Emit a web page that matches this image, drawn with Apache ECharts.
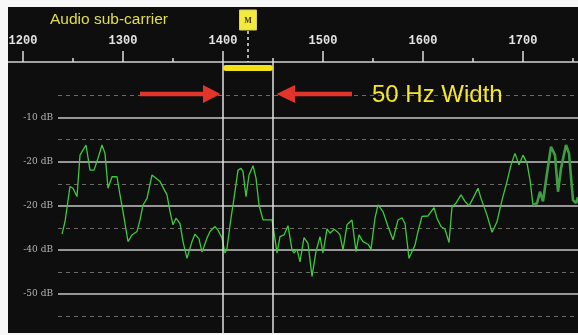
<!DOCTYPE html>
<html><head><meta charset="utf-8">
<script src="https://cdn.jsdelivr.net/npm/echarts@6/dist/echarts.min.js"></script>
<style>html,body{margin:0;padding:0;background:#f7f7f7}#c{width:578px;height:335px}</style>
</head><body><div id="c"></div>
<script>
// ---- data ----
const freqA = [1239,1242,1247,1250,1254,1257,1259,1263,1267,1271,1275,1279,1282,1285,1289,1294,1297,1300,1305,1309,1314,1317,1320,1324,1329,1331,1337,1344,1347,1350,1353,1357,1360,1364,1369,1372,1376,1379,1384,1387,1392,1395,1399,1402,1404,1408,1411,1415,1418,1420,1423,1426,1430,1433,1436,1440,1444,1449,1450,1451,1454,1457,1461,1465,1469,1471,1474,1477,1481,1485,1489,1493,1497,1500,1504,1507,1511,1514,1517,1520,1524,1529,1533,1536,1540,1545,1548,1552,1555,1560,1565,1570,1575,1579,1582,1586,1592,1595,1599,1605,1607,1611,1614,1618,1622,1626,1629,1633,1638,1642,1646,1650,1655,1658,1664,1669,1674,1679,1684,1688,1692,1696,1700,1704,1707,1710];
const dbA = [-36.4,-33.6,-25.6,-26,-27.9,-18.5,-17.7,-16.2,-21.9,-21.9,-19.2,-16.2,-18.1,-26,-23.4,-23.4,-27.5,-31.3,-38.1,-36.6,-35.8,-33.2,-29.8,-28.3,-23,-23,-24.5,-27.5,-31.3,-34.3,-32.8,-34,-38.1,-41.9,-38.1,-36.4,-37.5,-40.5,-37.3,-35.8,-34.7,-35.5,-37.3,-40.7,-39.6,-32.8,-28.3,-21.9,-21.5,-22.2,-27.9,-23,-20.9,-23.7,-29.8,-33.2,-33.2,-33.2,-33.3,-36,-40.7,-37,-36.6,-34.5,-40,-40.7,-39.8,-42.7,-37.2,-38.5,-46,-40.4,-37,-40.7,-35.2,-36.2,-35.3,-35.8,-36.6,-40,-34.3,-33.2,-40.4,-36.6,-38.1,-38.7,-39.8,-32.8,-29.8,-31.3,-34.7,-37.7,-33.2,-32.7,-34,-41.9,-38.9,-35.8,-32.4,-32.3,-32.4,-30.4,-32.8,-34.7,-35.3,-38.3,-30.2,-29.4,-27.5,-29,-30,-28.3,-26,-28.3,-32.1,-36,-33.6,-28.7,-24.5,-20.7,-18.1,-20.7,-18.5,-20.3,-24.1,-29.8];
const freqB = [1710,1714,1717,1720,1724,1728,1732,1735,1738,1743,1746,1750,1753,1755];
const dbB = [-29.8,-29.4,-26.8,-29,-22.6,-16.6,-18.5,-26.8,-21.5,-16.2,-18.1,-28.7,-29.4,-28];
const yTickValues = [-10,-20,-30,-40,-50];
const yTickLabels = ['-10 dB','-20 dB','-20 dB','-40 dB','-50 dB'];
const titleText = 'Audio sub-carrier';
const markerLabel = 'M';
const markerFreq = 1425;
const bandStart = 1400, bandEnd = 1450;
const bandText = '50 Hz Width';

// ---- chart ----
const chart = echarts.init(document.getElementById('c'), null, {renderer:'canvas'});
const pairs = (f, d) => f.map((v, i) => [v, d[i]]);
const xMin = 1100, xMax = 1800;
const hidden = {show: false, axisLine: {show: false}, axisTick: {show: false}, minorTick: {show: false}, axisLabel: {show: false}, splitLine: {show: false}};
const g = o => Object.assign({containLabel: false, outerBoundsMode: 'none'}, o);

chart.setOption({
  backgroundColor: '#0e0e0e',
  animation: false,
  grid: [
    g({left: -77, right: -45, top: 62, bottom: -40}),
    g({left: -77, right: -45, top: 73.6, bottom: -3.1}),
    g({left: 58, right: 0, top: 73.6, bottom: -3.1})
  ],
  xAxis: [
    {gridIndex: 0, type: 'value', position: 'top', min: xMin, max: xMax, interval: 100,
     axisLine: {show: true, onZero: false, lineStyle: {color: '#cfd3d6', width: 1.5}},
     axisTick: {show: true, length: 11, lineStyle: {color: '#dddddd', width: 1.5}},
     minorTick: {show: true, splitNumber: 2, length: 4, lineStyle: {color: '#dddddd', width: 1.5}},
     splitLine: {show: false},
     axisLabel: {margin: 15, color: '#e4e4e4', fontFamily: 'Liberation Mono', fontWeight: 'bold', fontSize: 12,
                 formatter: v => String(v)}},
    Object.assign({gridIndex: 1, type: 'value', min: xMin, max: xMax}, hidden),
    Object.assign({gridIndex: 2, type: 'value', min: 0, max: 1}, hidden)
  ],
  yAxis: [
    Object.assign({gridIndex: 0, type: 'value', min: 0, max: 1}, hidden),
    Object.assign({gridIndex: 1, type: 'value', min: -60, max: 0}, hidden),
    {gridIndex: 2, type: 'value', min: -60, max: 0, interval: 10,
     axisLine: {show: false}, axisTick: {show: false},
     axisLabel: {margin: 5, color: '#b4b4b4', fontFamily: 'DejaVu Serif', fontSize: 9,
                 formatter: v => { const i = yTickValues.indexOf(v); return i >= 0 ? yTickLabels[i] : ''; }},
     splitLine: {show: true, showMaxLine: false, lineStyle: {color: '#c6c6c6', width: 1.5}},
     minorTick: {show: false, splitNumber: 2},
     minorSplitLine: {show: true, lineStyle: {color: '#6e6a66', width: 1, type: [4, 4]}}}
  ],
  series: [
    {type: 'line', xAxisIndex: 1, yAxisIndex: 1, data: pairs(freqA, dbA), showSymbol: false,
     lineStyle: {color: '#3ccb3c', width: 1.3}, z: 5},
    {type: 'line', xAxisIndex: 1, yAxisIndex: 1, data: pairs(freqB, dbB), showSymbol: false,
     lineStyle: {color: '#3d9e42', width: 2.6}, z: 5}
  ]
});

const px = f => chart.convertToPixel({xAxisIndex: 0}, f);
const xs = px(bandStart), xe = px(bandEnd), xm = px(markerFreq);
const axisY = 62, arrowY = 94;
const red = '#e3342b';
chart.setOption({
  graphic: [
    {type: 'line', shape: {x1: xs, y1: axisY, x2: xs, y2: 335}, style: {stroke: '#e2e2e2', lineWidth: 1.5}, z: 20},
    {type: 'line', shape: {x1: xe, y1: axisY, x2: xe, y2: 335}, style: {stroke: '#e2e2e2', lineWidth: 1.5}, z: 20},
    {type: 'line', shape: {x1: xs + 3, y1: 68, x2: xe - 3, y2: 68}, style: {stroke: '#f2e414', lineWidth: 6, lineCap: 'round'}, z: 21},
    {type: 'line', shape: {x1: xm, y1: 31, x2: xm, y2: axisY}, style: {stroke: '#e8e8e8', lineWidth: 1.5, lineDash: [3, 3]}, z: 20},
    {type: 'rect', shape: {x: xm - 8.5, y: 10, width: 17, height: 20}, style: {fill: '#f3ea3c', stroke: '#d8d070', lineWidth: 1}, z: 21},
    {type: 'text', x: xm, y: 20.5, style: {text: markerLabel, fill: '#3a3520', font: 'bold 8px "Liberation Serif"', align: 'center', verticalAlign: 'middle'}, z: 22},
    {type: 'text', x: 50, y: 20, style: {text: titleText, fill: '#e4de48', font: '15.5px "Liberation Sans"', verticalAlign: 'middle'}, z: 22},
    {type: 'polygon', shape: {points: [[140, arrowY - 2.2], [xs - 20, arrowY - 2.2], [xs - 20, arrowY - 9], [xs - 2.5, arrowY], [xs - 20, arrowY + 9], [xs - 20, arrowY + 2.2], [140, arrowY + 2.2]]}, style: {fill: red}, z: 22},
    {type: 'polygon', shape: {points: [[352, arrowY - 2.2], [xe + 22, arrowY - 2.2], [xe + 22, arrowY - 9], [xe + 3.5, arrowY], [xe + 22, arrowY + 9], [xe + 22, arrowY + 2.2], [352, arrowY + 2.2]]}, style: {fill: red}, z: 22},
    {type: 'text', x: 372, y: 95, style: {text: bandText, fill: '#f5e62a', font: '24px "Liberation Sans"', verticalAlign: 'middle'}, z: 22},
    {type: 'rect', shape: {x: 0, y: 0, width: 8, height: 335}, style: {fill: '#f7f7f7'}, z: 100},
    {type: 'rect', shape: {x: 0, y: 0, width: 578, height: 7}, style: {fill: '#f7f7f7'}, z: 100},
    {type: 'rect', shape: {x: 0, y: 333, width: 578, height: 2}, style: {fill: '#f7f7f7'}, z: 100}
  ]
});
</script></body></html>
